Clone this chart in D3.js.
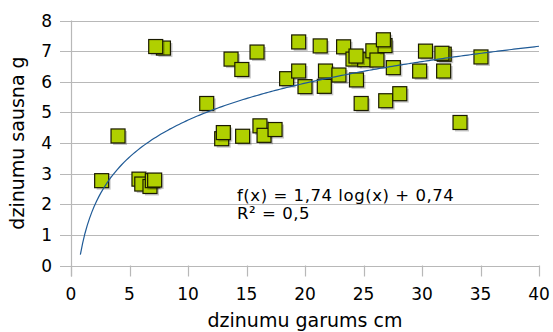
<!DOCTYPE html>
<html>
<head>
<meta charset="utf-8">
<script src="https://cdn.jsdelivr.net/npm/d3@7"></script>
<style>
  html, body { margin: 0; padding: 0; background: #fff; }
  svg { display: block; font-family: "DejaVu Sans", sans-serif; }
</style>
</head>
<body>
<svg id="chart" width="553" height="332"></svg>
<script>
// Shoot length (cm) against dry mass (g)
const lengthCm = [2.62, 4.02, 5.81, 6.05, 6.75, 6.95, 7.15, 7.90, 7.24, 11.6,
  12.88, 13.02, 13.68, 14.6, 14.67, 15.9, 16.15, 16.5, 17.44, 18.43,
  19.46, 19.46, 20.0, 21.3, 21.65, 21.75, 22.9, 23.3, 24.1, 25.1, 24.36,
  24.4, 24.8, 25.8, 26.15, 26.84, 26.7, 26.9, 27.55, 28.1, 29.8,
  30.3, 31.9, 31.7, 31.85, 33.25, 35.04];
const dryMassG = [2.77, 4.23, 2.82, 2.66, 2.58, 2.77, 2.79, 7.10, 7.15, 5.29,
  4.14, 4.34, 6.74, 6.40, 4.22, 6.97, 4.56, 4.25, 4.44, 6.10,
  7.30, 6.35, 5.84, 7.17, 5.85, 6.35, 6.22, 7.14, 6.74, 6.72, 6.84,
  6.06, 5.29, 7.01, 6.71, 7.18, 7.37, 5.38, 6.46, 5.61, 6.35,
  7.00, 6.90, 6.93, 6.35, 4.67, 6.81];

// Logarithmic trend line f(x) = a·ln(x) + b
const trendA = 1.74;
const trendB = 0.74;
const trendRange = [0.8, 40];
const rSquared = "0,5";

const xTicks = [0, 5, 10, 15, 20, 25, 30, 35, 40];
const yTicks = [0, 1, 2, 3, 4, 5, 6, 7, 8];
const xTitle = "dzinumu garums cm";
const yTitle = "dzinumu sausna g";

const svg = d3.select("#chart");
const x = d3.scaleLinear().domain([0, 40]).range([71, 539]);
const y = d3.scaleLinear().domain([0, 8]).range([265.5, 20.5]);

const gridColor = "#b8b8b8";
const tickLen = 11;

// horizontal grid lines (they also act as the y ticks)
svg.append("g").selectAll("line").data(yTicks).join("line")
  .attr("x1", x(0) - tickLen).attr("x2", x(40))
  .attr("y1", d => Math.round(y(d)) + 0.5).attr("y2", d => Math.round(y(d)) + 0.5)
  .attr("stroke", gridColor).attr("stroke-width", 1.2);

// y axis line
svg.append("line")
  .attr("x1", x(0) + 0.5).attr("x2", x(0) + 0.5)
  .attr("y1", y(8)).attr("y2", y(0) + tickLen)
  .attr("stroke", gridColor).attr("stroke-width", 1.2);

// x ticks below the baseline
svg.append("g").selectAll("line").data(xTicks).join("line")
  .attr("x1", d => Math.round(x(d)) + 0.5).attr("x2", d => Math.round(x(d)) + 0.5)
  .attr("y1", y(0)).attr("y2", y(0) + tickLen)
  .attr("stroke", gridColor).attr("stroke-width", 1.2);

// tick labels
svg.append("g").selectAll("text").data(yTicks).join("text")
  .attr("x", 52).attr("y", d => y(d))
  .attr("dy", "0.36em")
  .attr("text-anchor", "end")
  .attr("font-size", 17).attr("fill", "#000")
  .text(d => d);

svg.append("g").selectAll("text").data(xTicks).join("text")
  .attr("x", d => x(d)).attr("y", 300)
  .attr("text-anchor", "middle")
  .attr("font-size", 17).attr("fill", "#000")
  .text(d => d);

// axis titles
svg.append("text")
  .attr("x", (x(0) + x(40)) / 2).attr("y", 327)
  .attr("text-anchor", "middle")
  .attr("font-size", 19).attr("fill", "#000")
  .text(xTitle);

svg.append("text")
  .attr("transform", `translate(24,${(y(0) + y(8)) / 2}) rotate(-90)`)
  .attr("text-anchor", "middle")
  .attr("font-size", 19).attr("fill", "#000")
  .text(yTitle);

// data markers: square with a soft drop shadow
const pts = lengthCm.map((v, i) => [v, dryMassG[i]]);
const size = 14;
const marks = svg.append("g");
pts.forEach(([px, py]) => {
  const cx = x(px), cy = y(py);
  marks.append("rect")
    .attr("x", cx - size / 2 + 2).attr("y", cy - size / 2 + 2)
    .attr("width", size).attr("height", size)
    .attr("fill", "rgba(0,0,0,0.22)");
  marks.append("rect")
    .attr("x", cx - size / 2).attr("y", cy - size / 2)
    .attr("width", size).attr("height", size)
    .attr("fill", "#b0d000")
    .attr("stroke", "#1a1a00").attr("stroke-width", 1.2);
});

// trend line
const trendPts = d3.range(0, 201).map(i => {
  const xv = trendRange[0] + (trendRange[1] - trendRange[0]) * i / 200;
  return [xv, trendA * Math.log(xv) + trendB];
});
svg.append("path")
  .datum(trendPts)
  .attr("fill", "none")
  .attr("stroke", "#1f5a96")
  .attr("stroke-width", 1.2)
  .attr("d", d3.line().x(d => x(d[0])).y(d => y(d[1])));

// equation label
const fmt = v => v.toFixed(2).replace(".", ",");
const eq = svg.append("text").attr("font-size", 16.5).attr("fill", "#000")
  .attr("letter-spacing", 0.55);
eq.append("tspan").attr("x", 237).attr("y", 200.5)
  .text(`f(x) = ${fmt(trendA)} log(x) + ${fmt(trendB)}`);
eq.append("tspan").attr("x", 237).attr("y", 218.5)
  .text(`R² = ${rSquared}`);
</script>
</body>
</html>
